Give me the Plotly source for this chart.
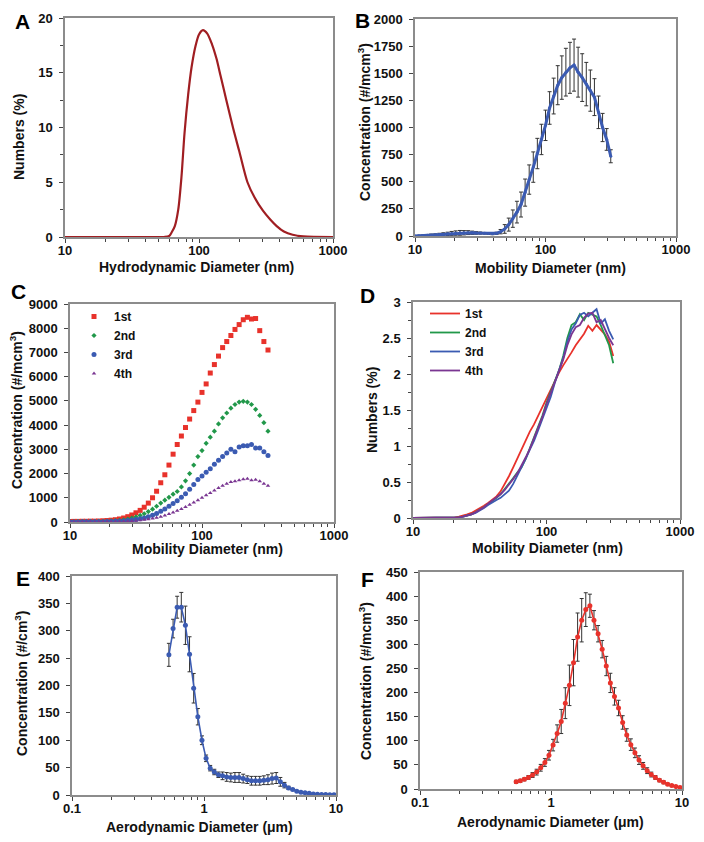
import plotly.graph_objects as go

# The page body has an 8px default margin, so the figure is laid out in reference
# pixel coordinates and shifted by that offset.
OFF = 8
FW, FH = 696, 834
FONT = "Liberation Sans, Arial, Helvetica, sans-serif"

# ---------------- Panel A : DLS hydrodynamic size ----------------
A_X = [10, 20, 40, 55, 60, 63, 66, 70, 74, 78, 83, 88, 94, 100, 107, 115, 125, 135,
       145, 160, 180, 200, 230, 260, 300, 340, 380, 430, 500, 600, 1000]
A_Y = [0, 0, 0, 0, 0.1, 0.5, 1.0, 2.5, 5.5, 9.5, 13.0, 15.5, 17.4, 18.5, 18.9, 18.6,
       17.6, 16.3, 14.7, 12.5, 9.9, 7.8, 5.0, 3.6, 2.4, 1.6, 1.0, 0.5, 0.2, 0.05, 0]

# ---------------- SMPS mobility channels (B, C, D) ----------------
SMPS_X = [10.0, 10.7, 11.5, 12.4, 13.3, 14.3, 15.4, 16.5, 17.8, 19.1, 20.5, 22.1, 23.7,
          25.5, 27.4, 29.4, 31.6, 34.0, 36.5, 39.2, 42.2, 45.3, 48.7, 52.3, 56.2, 60.4,
          64.9, 69.8, 75.0, 80.6, 86.6, 93.1, 100.0, 107.5, 115.5, 124.1, 133.4, 143.3,
          154.0, 165.5, 177.8, 191.1, 205.4, 220.7, 237.1, 254.8, 273.8, 294.3, 316.2]

B_Y = [0, 2, 4, 6, 8, 10, 13, 16, 20, 24, 27, 29, 30, 31, 30, 28, 27, 25, 22, 20, 25, 40,
       65, 105, 160, 220, 290, 400, 520, 635, 760, 890, 1020, 1180, 1290, 1390, 1460,
       1510, 1550, 1575, 1510, 1460, 1400, 1340, 1280, 1140, 1000, 890, 735]
B_ERR = [5, 5, 6, 8, 10, 10, 12, 14, 15, 18, 20, 22, 20, 18, 15, 12, 10, 8, 8, 8, 10, 20,
         40, 60, 80, 100, 115, 125, 135, 140, 140, 140, 140, 150, 165, 180, 200, 220,
         235, 240, 230, 220, 200, 190, 170, 150, 130, 100, 60]

C_1ST = [20, 25, 25, 30, 30, 35, 35, 40, 50, 60, 75, 95, 125, 165, 220, 290, 380, 480,
         610, 780, 1000, 1270, 1620, 1950, 2350, 2800, 3200, 3550, 3900, 4250, 4600,
         4950, 5350, 5700, 6150, 6500, 6850, 7200, 7450, 7700, 7950, 8150, 8350, 8450,
         8380, 8400, 7900, 7450, 7100]
C_2ND = [10, 10, 12, 15, 15, 18, 20, 25, 30, 35, 45, 55, 70, 90, 120, 160, 210, 270, 340,
         430, 530, 650, 780, 900, 1020, 1150, 1260, 1450, 1700, 2000, 2350, 2700, 2950,
         3250, 3500, 3750, 4050, 4300, 4500, 4700, 4850, 4950, 4980, 4950, 4850, 4650,
         4400, 4100, 3750]
C_3RD = [5, 5, 5, 8, 8, 10, 10, 12, 15, 18, 22, 28, 35, 45, 60, 80, 105, 135, 170, 220,
         280, 350, 440, 540, 650, 760, 880, 1020, 1170, 1350, 1550, 1750, 1900, 2050,
         2200, 2380, 2550, 2700, 2850, 3000, 2900, 3100, 3150, 3150, 3200, 3050, 3050,
         2900, 2750]
C_4TH = [3, 3, 3, 4, 4, 5, 5, 6, 8, 10, 12, 15, 20, 25, 32, 42, 55, 70, 90, 115, 145, 180,
         220, 270, 330, 390, 460, 540, 620, 710, 800, 900, 1000, 1100, 1200, 1300, 1400,
         1500, 1580, 1650, 1680, 1720, 1760, 1790, 1720, 1740, 1680, 1580, 1500]

D_1ST = [0, 0, 0, 0, 0, 0, 0, 0, 0, 0.005, 0.01, 0.02, 0.03, 0.05, 0.07, 0.1, 0.13, 0.17,
         0.21, 0.25, 0.3, 0.37, 0.47, 0.58, 0.7, 0.83, 0.95, 1.08, 1.2, 1.3, 1.42, 1.55,
         1.68, 1.8, 1.9, 2.02, 2.12, 2.22, 2.3, 2.4, 2.48, 2.56, 2.67, 2.6, 2.68, 2.62,
         2.55, 2.45, 2.25]
D_2ND = [0, 0, 0, 0, 0, 0, 0, 0, 0, 0, 0.005, 0.01, 0.02, 0.03, 0.05, 0.08, 0.11, 0.15,
         0.19, 0.23, 0.28, 0.33, 0.4, 0.47, 0.55, 0.63, 0.7, 0.82, 0.97, 1.1, 1.25, 1.42,
         1.6, 1.75, 1.9, 2.05, 2.25, 2.5, 2.68, 2.72, 2.83, 2.75, 2.85, 2.82, 2.8, 2.68,
         2.55, 2.4, 2.15]
D_3RD = [0, 0, 0, 0, 0, 0, 0, 0, 0, 0, 0.005, 0.01, 0.02, 0.03, 0.05, 0.07, 0.1, 0.14,
         0.18, 0.22, 0.25, 0.28, 0.33, 0.38, 0.47, 0.58, 0.7, 0.82, 0.95, 1.07, 1.22,
         1.38, 1.52, 1.68, 1.88, 2.05, 2.22, 2.45, 2.62, 2.7, 2.82, 2.85, 2.8, 2.85, 2.9,
         2.7, 2.76, 2.6, 2.48]
D_4TH = [0, 0, 0, 0, 0, 0, 0, 0, 0, 0, 0.005, 0.01, 0.02, 0.03, 0.05, 0.08, 0.11, 0.15,
         0.2, 0.24, 0.28, 0.33, 0.39, 0.46, 0.54, 0.62, 0.72, 0.84, 0.96, 1.1, 1.25, 1.4,
         1.58, 1.74, 1.9, 2.05, 2.2, 2.4, 2.55, 2.65, 2.68, 2.78, 2.84, 2.85, 2.72, 2.75,
         2.62, 2.5, 2.4]

SERIES_NAMES = ["1st", "2nd", "3rd", "4th"]

# ---------------- APS aerodynamic channels (E, F) ----------------
APS_X = [0.542, 0.583, 0.626, 0.673, 0.723, 0.777, 0.835, 0.898, 0.965, 1.037, 1.114,
         1.197, 1.286, 1.382, 1.486, 1.596, 1.715, 1.843, 1.981, 2.129, 2.288, 2.458,
         2.642, 2.839, 3.051, 3.278, 3.523, 3.786, 4.068, 4.371, 4.698, 5.048, 5.425,
         5.829, 6.264, 6.732, 7.234, 7.774, 8.354, 8.977, 9.647]
E_Y = [256, 304, 343, 343, 310, 257, 195, 143, 100, 67, 49, 42, 37, 35, 33, 32, 32, 32,
       30, 28, 26, 26, 26, 27, 28, 30, 31, 24, 18, 13, 10, 7, 5, 4, 3, 2, 1.5, 1, 0.8,
       0.5, 0.5]
E_ERR = [21, 17, 20, 27, 35, 32, 27, 15, 8, 6, 5, 5, 5, 7, 8, 8, 9, 9, 8, 7, 8, 8, 8, 8,
         9, 10, 10, 8, 5, 3, 2, 1, 1, 1, 1, 1, 1, 1, 1, 1, 1]
F_Y = [15, 17, 20, 24, 29, 35, 44, 55, 70, 91, 115, 140, 178, 215, 262, 315, 350, 372,
       380, 350, 322, 290, 255, 220, 192, 168, 138, 112, 92, 75, 60, 48, 38, 30, 24, 18,
       14, 10, 7, 5, 3]
F_ERR = [3, 3, 3, 4, 5, 6, 7, 8, 10, 12, 18, 25, 32, 42, 48, 50, 45, 35, 24, 20, 17, 18,
         20, 20, 18, 16, 14, 13, 12, 10, 9, 7, 6, 5, 4, 3, 3, 2, 2, 1, 1]

# tick positions
NM = [10, 100, 1000]
NM_T = ["10", "100", "1000"]
NM_MINOR = [20, 30, 40, 50, 60, 70, 80, 90, 200, 300, 400, 500, 600, 700, 800, 900]
UM = [0.1, 1, 10]
UM_T = ["0.1", "1", "10"]
UM_MINOR = [0.2, 0.3, 0.4, 0.5, 0.6, 0.7, 0.8, 0.9, 2, 3, 4, 5, 6, 7, 8, 9]

RED = "#E8322B"
GREEN = "#21984A"
BLUE = "#3B5BB2"
PURPLE = "#7A3692"
DARKRED = "#A01E22"


def px(x):
    return (x - OFF) / FW


def py(y):
    return 1 - (y - OFF) / FH


def dx(a, b):
    return [px(a), px(b)]


def dy(top, bottom):
    return [py(bottom), py(top)]


fig = go.Figure()

# A
fig.add_trace(go.Scatter(x=A_X, y=A_Y, mode="lines",
                         line=dict(color=DARKRED, width=2.2, shape="spline", smoothing=0.8),
                         xaxis="x", yaxis="y", showlegend=False))
# B
fig.add_trace(go.Scatter(x=SMPS_X, y=B_Y, mode="lines+markers",
                         line=dict(color=BLUE, width=3), marker=dict(size=3, color=BLUE),
                         error_y=dict(type="data", array=B_ERR, color="#333333", thickness=1, width=2),
                         xaxis="x2", yaxis="y2", showlegend=False))
# C
c_sym = ["square", "diamond", "circle", "triangle-up"]
c_size = [5, 4, 5, 4]
c_col = [RED, GREEN, BLUE, PURPLE]
for name, ys, sym, sz, col in zip(SERIES_NAMES, [C_1ST, C_2ND, C_3RD, C_4TH], c_sym, c_size, c_col):
    fig.add_trace(go.Scatter(x=SMPS_X, y=ys, mode="markers", name=name,
                             marker=dict(symbol=sym, size=sz, color=col),
                             xaxis="x3", yaxis="y3", legend="legend"))
# D
for name, ys, col in zip(SERIES_NAMES, [D_1ST, D_2ND, D_3RD, D_4TH], c_col):
    fig.add_trace(go.Scatter(x=SMPS_X, y=ys, mode="lines", name=name,
                             line=dict(color=col, width=1.8),
                             xaxis="x4", yaxis="y4", legend="legend2"))
# E
fig.add_trace(go.Scatter(x=APS_X, y=E_Y, mode="lines+markers",
                         line=dict(color=BLUE, width=1.6), marker=dict(size=5, color=BLUE),
                         error_y=dict(type="data", array=E_ERR, color="#333333", thickness=1, width=2),
                         xaxis="x5", yaxis="y5", showlegend=False))
# F
fig.add_trace(go.Scatter(x=APS_X, y=F_Y, mode="lines+markers",
                         line=dict(color=RED, width=1.6), marker=dict(size=5, color=RED),
                         error_y=dict(type="data", array=F_ERR, color="#333333", thickness=1, width=2),
                         xaxis="x6", yaxis="y6", showlegend=False))


def base_axis():
    return dict(showline=True, linecolor="#8c8c8c", linewidth=1.5, mirror=True,
                ticks="outside", ticklen=4, tickwidth=1, tickcolor="#444",
                showgrid=False, zeroline=False, automargin=False, ticklabeloverflow="allow",
                tickfont=dict(family=FONT, size=13, color="#111", weight="bold"))


def xlog(domain, rng, vals, texts, minor_vals, anchor):
    d = base_axis()
    d.update(domain=domain, type="log", range=rng, tickmode="array", tickvals=vals, ticktext=texts,
             ticklabelstandoff=-3,
             minor=dict(ticks="outside", ticklen=3, tickcolor="#444", tickmode="array",
                        tickvals=minor_vals, showgrid=False),
             anchor=anchor)
    return d


def ylin(domain, rng, dtick, anchor, minor=None):
    d = base_axis()
    d.update(domain=domain, range=rng, dtick=dtick, tick0=0, ticklabelstandoff=4, anchor=anchor)
    if minor:
        d["minor"] = dict(ticks="outside", ticklen=3, tickcolor="#444", dtick=minor, showgrid=False)
    return d


fig.update_layout(
    template="none",
    width=FW, height=FH, margin=dict(l=0, r=0, t=0, b=0, autoexpand=False),
    paper_bgcolor="white", plot_bgcolor="white",
    font=dict(family=FONT, size=13, color="#111", weight="bold"),
    xaxis=xlog(dx(65, 333), [1, 3], NM, NM_T, NM_MINOR, "y"),
    yaxis=ylin(dy(18, 237), [0, 20], 5, "x", minor=2.5),
    xaxis2=xlog(dx(415, 676), [1, 3], NM, NM_T, NM_MINOR, "y2"),
    yaxis2=ylin(dy(19, 236), [0, 2000], 250, "x2"),
    xaxis3=xlog(dx(70, 334), [1, 3], NM, NM_T, NM_MINOR, "y3"),
    yaxis3=ylin(dy(304, 522), [0, 9000], 1000, "x3"),
    xaxis4=xlog(dx(413, 680), [1, 3], NM, NM_T, NM_MINOR, "y4"),
    yaxis4=ylin(dy(302, 518), [0, 3], 0.5, "x4", minor=0.25),
    xaxis5=xlog(dx(72, 336), [-1, 1], UM, UM_T, UM_MINOR, "y5"),
    yaxis5=ylin(dy(576, 795), [0, 400], 50, "x5"),
    xaxis6=xlog(dx(420, 682), [-1, 1], UM, UM_T, UM_MINOR, "y6"),
    yaxis6=ylin(dy(572, 789), [0, 450], 50, "x6"),
    legend=dict(x=px(74), y=py(302), xanchor="left", yanchor="top", bgcolor="rgba(0,0,0,0)",
                font=dict(family=FONT, size=12, color="#111", weight="bold"), tracegroupgap=0),
    legend2=dict(x=px(425), y=py(299), xanchor="left", yanchor="top", bgcolor="rgba(0,0,0,0)",
                 font=dict(family=FONT, size=12, color="#111", weight="bold"), tracegroupgap=0),
)

CONC = "Concentration (#/mcm<sup>3</sup>)"
# axis titles: (text, x, y, angle)
TITLES = [
    ("Hydrodynamic Diameter (nm)", 196, 267, 0), ("Numbers (%)", 19, 137, -90),
    ("Mobility Diameter (nm)", 550, 268, 0), (CONC, 364, 122, -90),
    ("Mobility Diameter (nm)", 207, 549, 0), (CONC, 16, 410, -90),
    ("Mobility Diameter (nm)", 547, 548, 0), ("Numbers (%)", 372, 410, -90),
    ("Aerodynamic Diameter (μm)", 199, 827, 0), ("Concentration (#/cm<sup>3</sup>)", 21, 684, -90),
    ("Aerodynamic Diameter (μm)", 550, 822, 0), (CONC, 365, 681, -90),
]
for t, x, y, ang in TITLES:
    fig.add_annotation(text=t, x=px(x), y=py(y), xref="paper", yref="paper",
                       xanchor="center", yanchor="middle", showarrow=False, textangle=ang,
                       font=dict(family=FONT, size=14, color="#111", weight="bold"))

letters = [("A", 22, 21), ("B", 362, 20), ("C", 18, 291), ("D", 367, 295), ("E", 23, 578), ("F", 367, 579)]
for t, x, y in letters:
    fig.add_annotation(text=t, x=px(x), y=py(y), xref="paper", yref="paper",
                       xanchor="center", yanchor="middle", showarrow=False,
                       font=dict(family=FONT, size=21, color="#000", weight="bold"))

fig.write_html("out.html")
